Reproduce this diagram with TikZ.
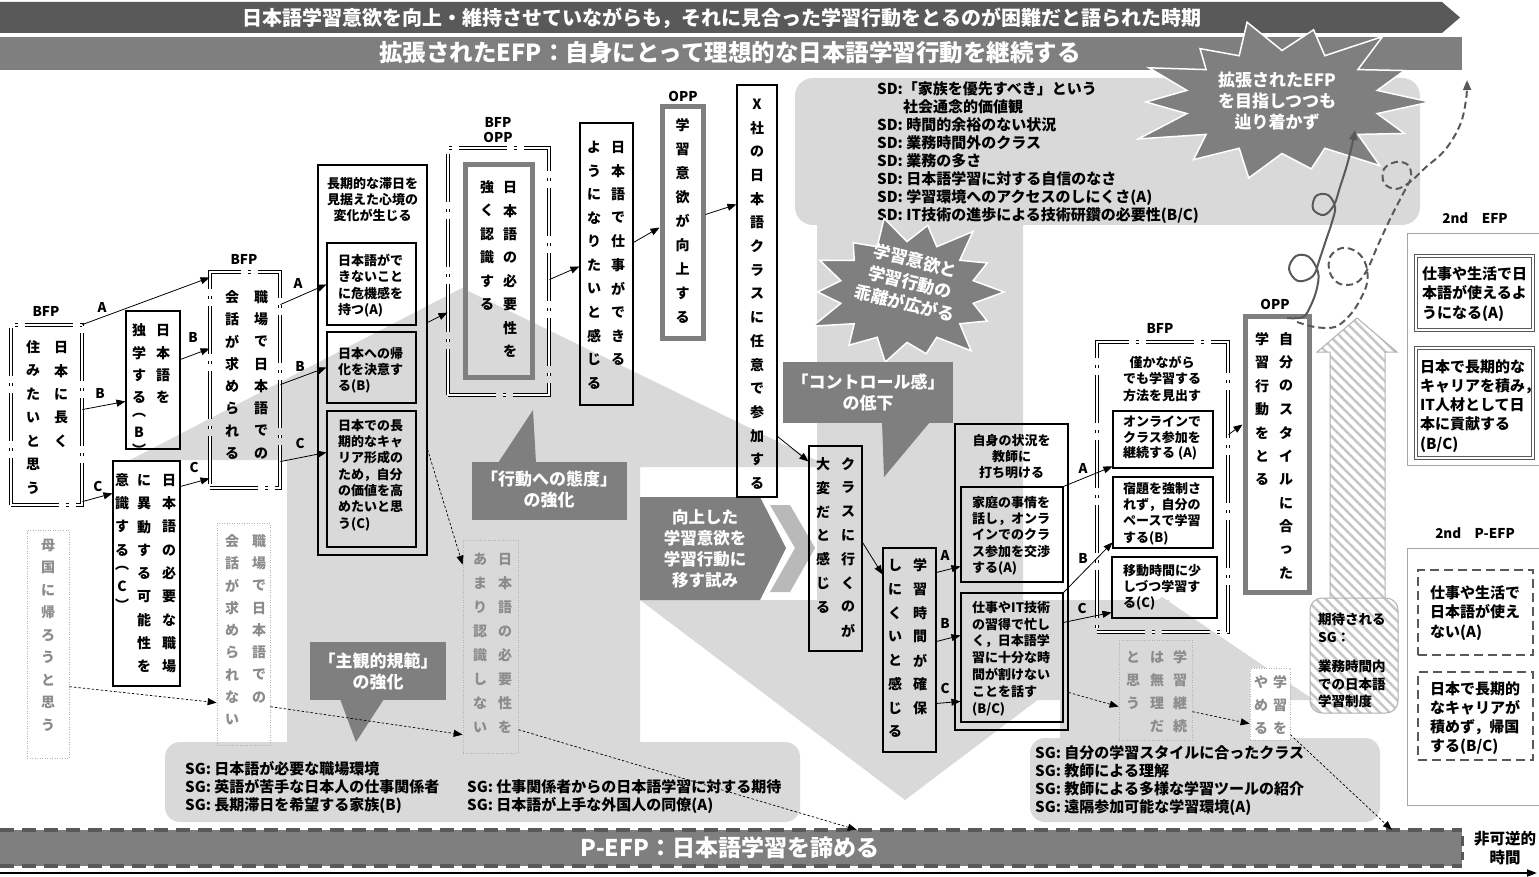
\documentclass[tikz,border=0pt]{standalone}
\usepackage{fontspec}
\setmainfont{Noto Sans CJK JP}
\usetikzlibrary{arrows.meta,fit,patterns.meta,calc}
\definecolor{lg}{HTML}{D9D9D9}
\definecolor{mg}{HTML}{7F7F7F}
\definecolor{dg}{HTML}{595959}
\definecolor{gt}{HTML}{8C8C8C}
\ExplSyntaxOn
\dim_new:N \l_vc_sp_dim
\cs_new_protected:Npn \vc_cell:nn #1#2
  { \vbox_to_ht:nn {#1} { \vss \hbox_to_wd:nn {1.2em} { \hss #2 \hss } \vss } }
\NewDocumentCommand \vcol { O{23.5pt} m }
  {
    \dim_set:Nn \l_vc_sp_dim {#1}
    \vbox:n
      {
        \offinterlineskip
        \tl_map_inline:nn {#2}
          {
            \str_case:nnF {##1}
              {
                {︵} { \vc_cell:nn {0.55\l_vc_sp_dim} {##1} }
                {︶} { \vc_cell:nn {0.55\l_vc_sp_dim} {##1} }
              }
              { \vc_cell:nn {\l_vc_sp_dim} {##1} }
          }
      }
  }
\ExplSyntaxOff
\tikzset{
  ar/.style={-{Triangle[length=9pt,width=7pt]},line width=0.8pt},
  dar/.style={-{Triangle[length=9pt,width=7pt]},line width=0.7pt,dash pattern=on 2.5pt off 2pt},
  box/.style={draw,line width=1.1pt,inner sep=0pt},
  bfpbox/.style={draw,double,double distance=1.8pt,line width=0.9pt,inner sep=0pt,dash pattern=on 48pt off 7pt on 3pt off 7pt},
  oppbox/.style={draw=mg,line width=5pt,inner sep=0pt},
  ghost/.style={draw=gray!60,line width=0.7pt,dash pattern=on 1pt off 1.5pt,inner sep=0pt},
  vt/.style={font=\fontsize{14}{14}\selectfont\bfseries,inner sep=0pt,anchor=north},
  gvt/.style={vt,text=gt},
  tx/.style={font=\fontsize{13}{16.3}\selectfont\bfseries,inner sep=0pt,align=left,anchor=north west},
  ctx/.style={font=\fontsize{13}{16.3}\selectfont\bfseries,inner sep=0pt,align=center,anchor=north},
  lab/.style={font=\fontsize{13.5}{14}\selectfont\bfseries,inner sep=0pt},
  wt/.style={text=white,font=\fontsize{17}{21}\selectfont\bfseries,align=center,inner sep=0pt},
  sgt/.style={font=\fontsize{15}{18}\selectfont\bfseries,inner sep=0pt,align=left,anchor=north west},
}
\begin{document}
\begin{tikzpicture}[x=1pt,y=-1pt]
\useasboundingbox (0,0) rectangle (1539,877);
\fill[white] (0,0) rectangle (1539,877);
% large background arrows
\fill[lg] (130,460) -- (462,288) -- (830,467) -- (640,467) -- (640,745) -- (287,745) -- (287,460) -- cycle;
\fill[lg] (817,200) -- (1023,200) -- (1023,600) -- (1170,600) -- (905,800) -- (640,600) -- (817,600) -- cycle;
\fill[lg] (1010,700) -- (1162,597) -- (1314,700) -- (1270,700) -- (1270,740) -- (1060,740) -- (1060,700) -- cycle;
% SD / SG boxes
\fill[lg,rounded corners=18pt] (795,78) rectangle (1420,225);
\fill[lg,rounded corners=15pt] (165,742) rectangle (800,822);
\fill[lg,rounded corners=15pt] (1030,738) rectangle (1380,822);
\node[sgt] (sdt) at (877,81.5) {SD:「家族を優先すべき」という\\\hspace*{26pt}社会通念的価値観\\SD: 時間的余裕のない状況\\SD: 業務時間外のクラス\\SD: 業務の多さ\\SD: 日本語学習に対する自信のなさ\\SD: 学習環境へのアクセスのしにくさ(A)\\SD: IT技術の進歩による技術研鑽の必要性(B/C)};
\node[sgt] (sg1) at (185,761) {SG: 日本語が必要な職場環境\\SG: 英語が苦手な日本人の仕事関係者\\SG: 長期滞日を希望する家族(B)};
\node[sgt] (sg2) at (467,779) {SG: 仕事関係者からの日本語学習に対する期待\\SG: 日本語が上手な外国人の同僚(A)};
\node[sgt] (sg3) at (1035,745) {SG: 自分の学習スタイルに合ったクラス\\SG: 教師による理解\\SG: 教師による多様な学習ツールの紹介\\SG: 遠隔参加可能な学習環境(A)};
% banners
\fill[dg] (0,2) -- (1442,2) -- (1460,17.5) -- (1442,33) -- (0,33) -- cycle;
\node[text=white,font=\fontsize{20}{20}\selectfont\bfseries,inner sep=0pt] (ban1) at (722,18) {日本語学習意欲を向上・維持させていながらも，それに見合った学習行動をとるのが困難だと語られた時期};
\fill[mg] (0,37) rectangle (1462,70);
\node[text=white,font=\fontsize{23.5}{24}\selectfont\bfseries,inner sep=0pt] (ban2) at (730,53) {拡張されたEFP：自身にとって理想的な日本語学習行動を継続する};
\node[fit={(0,830) (1462,866)},inner sep=0pt,fill=mg] (pefp) {};
\draw[dg,line width=3.5pt,dash pattern=on 14pt off 8pt] (pefp.north west) -- (pefp.north east) (pefp.south west) -- (pefp.south east);
\draw[dg,line width=3pt,dash pattern=on 10pt off 6pt] ([yshift=-6pt]pefp.north east) -- ([yshift=6pt]pefp.south east);
\node[text=white,font=\fontsize{23}{24}\selectfont\bfseries,inner sep=0pt] (pefpt) at (730,848) {P-EFP：日本語学習を諦める};
\coordinate (tl0) at (0,873);
\coordinate (tl1) at (1537,873);
\draw[line width=2pt,-{Triangle[length=10pt,width=7pt]}] (tl0) -- (tl1);
\node[font=\fontsize{15.5}{19.5}\selectfont\bfseries,align=center,inner sep=0pt] (irr) at (1505,848) {非可逆的\\時間};
% stars
\path[fill=mg,draw=white,line width=1.5pt] ($(907,292)+(0:97 and 72)$) \foreach \a/\f in {13/0.7,26/0.92,39/0.7,51/1.05,64/0.7,77/0.88,90/0.7,103/1.0,116/0.7,129/0.95,141/0.7,154/1.08,167/0.7,180/0.92,193/0.7,206/1.0,219/0.7,231/0.88,244/0.7,257/1.05,270/0.7,283/0.95,296/0.7,309/1.08,321/0.7,334/0.92,347/0.7} { -- ($(907,292)+(\a:{97*\f} and {72*\f})$) } -- cycle;
\node[wt,rotate=-14,font=\fontsize{17}{22}\selectfont\bfseries] (st1) at (910,282) {学習意欲と\\学習行動の\\乖離が広がる};
\path[fill=mg,draw=white,line width=1.5pt] ($(1282,102)+(0:148 and 78)$) \foreach \a/\f in {13/0.66,26/0.92,39/0.66,51/1.05,64/0.66,77/0.88,90/0.66,103/1.0,116/0.66,129/0.95,141/0.66,154/1.08,167/0.66,180/0.92,193/0.66,206/1.0,219/0.66,231/0.88,244/0.66,257/1.05,270/0.66,283/0.95,296/0.66,309/1.08,321/0.66,334/0.92,347/0.66} { -- ($(1282,102)+(\a:{148*\f} and {78*\f})$) } -- cycle;
\node[wt] (st2) at (1277,101) {拡張されたEFP\\を目指しつつも\\辿り着かず};
% callouts
\fill[mg] (472,462) rectangle (627,520);
\fill[mg] (498,463) -- (533,410) -- (536,463) -- cycle;
\node[wt] (cl1) at (549,490) {「行動への態度」\\の強化};
\fill[mg] (310,642) rectangle (446,700);
\fill[mg] (340,699) -- (356,742) -- (384,699) -- cycle;
\node[wt] (cl2) at (378,671) {「主観的規範」\\の強化};
\fill[mg] (783,362) rectangle (953,423);
\fill[mg] (882,422) -- (884,477) -- (930,422) -- cycle;
\node[wt] (cl3) at (868,392) {「コントロール感」\\の低下};
\fill[mg] (640,497) -- (760,497) -- (786,548) -- (760,600) -- (640,600) -- cycle;
\fill[gray!55] (770,505) -- (790,505) -- (815,548) -- (790,592) -- (770,592) -- (795,548) -- cycle;
\node[wt,font=\fontsize{16.5}{21}\selectfont\bfseries] (cl4) at (705,549) {向上した\\学習意欲を\\学習行動に\\移す試み};
% hatched arrow and expected SG
\path[pattern={Lines[angle=-45,distance=7pt,line width=2.5pt]},pattern color=gray!45,draw=gray!60,line width=1pt] (1330,598) -- (1330,352) -- (1317,352) -- (1357,318) -- (1397,352) -- (1385,352) -- (1385,598);
\node[fit={(1310,598) (1398,713)},inner sep=0pt,rounded corners=12pt,draw=gray!60,line width=1pt,fill=white,pattern={Lines[angle=-45,distance=7pt,line width=2.5pt]},pattern color=gray!45] (esg) {};
\node[tx,font=\fontsize{13.5}{17.5}\selectfont\bfseries] (esgt) at (1318,613) {期待される\\SG：\\[12pt]業務時間内\\での日本語\\学習制度};
% ---------- left column
\node[lab] (lbfp1) at (46,311) {BFP};
\node[fit={(11,325) (82,505)},bfpbox] (b1) {};
\node[vt] (b1r) at (61,335.25) {\vcol[23.5pt]{日本に長く}};
\node[vt] (b1l) at (33,335.25) {\vcol[23.5pt]{住みたいと思う}};
\node[fit={(126,311) (180,449)},box] (b2) {};
\node[vt] (b2r) at (163,318.75) {\vcol[22.5pt]{日本語を}};
\node[vt] (b2l) at (139,318.75) {\vcol[22.5pt]{独学する︵B︶}};
\node[fit={(113,461) (180,686)},box] (b3) {};
\node[vt] (b3r) at (169,468.35) {\vcol[23.3pt]{日本語の必要な職場}};
\node[vt] (b3m) at (144,468.35) {\vcol[23.3pt]{に異動する可能性を}};
\node[vt] (b3l) at (122,468.35) {\vcol[23.3pt]{意識する︵C︶}};
\node[fit={(27,530) (69,758)},ghost] (g1) {};
\node[gvt] (g1c) at (48,533.75) {\vcol[22.5pt]{母国に帰ろうと思う}};
\node[lab] (lbfp2) at (244,259) {BFP};
\node[fit={(210,272) (280,488)},bfpbox] (b4) {};
\node[vt] (b4r) at (261,285.85) {\vcol[22.3pt]{職場で日本語での}};
\node[vt] (b4l) at (232,285.85) {\vcol[22.3pt]{会話が求められる}};
\node[fit={(217,523) (270,745)},ghost] (g2) {};
\node[gvt] (g2r) at (259,529.85) {\vcol[22.3pt]{職場で日本語での}};
\node[gvt] (g2l) at (232,529.85) {\vcol[22.3pt]{会話が求められない}};
% container 5
\node[fit={(318,165) (427,555)},box] (c5) {};
\node[ctx] (c5h) at (372.5,177) {長期的な滞日を\\見据えた心境の\\変化が生じる};
\node[fit={(327,243) (416,325)},box] (iA) {};
\node[tx] (iAt) at (338,254) {日本語がで\\きないこと\\に危機感を\\持つ(A)};
\node[fit={(327,332) (416,403)},box] (iB) {};
\node[tx] (iBt) at (338,347) {日本への帰\\化を決意す\\る(B)};
\node[fit={(327,411) (416,547)},box] (iC) {};
\node[tx] (iCt) at (338,419) {日本での長\\期的なキャ\\リア形成の\\ため，自分\\の価値を高\\めたいと思\\う(C)};
\node[fit={(463,540) (518,753)},ghost] (g5) {};
\node[gvt] (g5r) at (505,547) {\vcol[24pt]{日本語の必要性を}};
\node[gvt] (g5l) at (480,547) {\vcol[24pt]{あまり認識しない}};
% b6
\node[lab] (lbfp3) at (498,122) {BFP};
\node[lab] (lopp1) at (498,137) {OPP};
\node[fit={(448,148) (549,395)},bfpbox] (b6) {};
\node[fit={(465,165) (532,377)},oppbox] (b6i) {};
\node[vt] (b6r) at (510,175.25) {\vcol[23.5pt]{日本語の必要性を}};
\node[vt] (b6l) at (487,175.25) {\vcol[23.5pt]{強く認識する}};
\node[fit={(580,123) (633,405)},box] (b7) {};
\node[vt] (b7r) at (618,135.2) {\vcol[23.6pt]{日本語で仕事ができる}};
\node[vt] (b7l) at (594,135.2) {\vcol[23.6pt]{ようになりたいと感じる}};
\node[lab] (lopp2) at (683,96) {OPP};
\node[fit={(662,107) (703,338)},oppbox] (b8) {};
\node[vt] (b8c) at (682.5,113) {\vcol[24pt]{学習意欲が向上する}};
\node[fit={(737,85) (777,497)},box] (b9) {};
\node[vt] (b9c) at (757,92.15) {\vcol[23.7pt]{X社の日本語クラスに任意で参加する}};
\node[fit={(809,446) (862,651)},box] (b10) {};
\node[vt] (b10r) at (848,452.1) {\vcol[23.8pt]{クラスに行くのが}};
\node[vt] (b10l) at (823,452.1) {\vcol[23.8pt]{大変だと感じる}};
\node[fit={(883,548) (936,752)},box] (b11) {};
\node[vt] (b11r) at (920,553.1) {\vcol[23.8pt]{学習時間が確保}};
\node[vt] (b11l) at (895,553.1) {\vcol[23.8pt]{しにくいと感じる}};
% container 12
\node[fit={(955,424) (1068,730)},box] (c12) {};
\node[ctx] (c12h) at (1011.5,434) {自身の状況を\\教師に\\打ち明ける};
\node[fit={(961,487) (1063,582)},box] (c12a) {};
\node[tx] (c12at) at (972,496) {家庭の事情を\\話し，オンラ\\インでのクラ\\ス参加を交渉\\する(A)};
\node[fit={(961,593) (1063,722)},box] (c12b) {};
\node[tx,font=\fontsize{13}{16.8}\selectfont\bfseries] (c12bt) at (972,601) {仕事やIT技術\\の習得で忙し\\く，日本語学\\習に十分な時\\間が割けない\\ことを話す\\(B/C)};
% b13
\node[lab] (lbfp4) at (1160,328) {BFP};
\node[fit={(1097,342) (1228,632)},bfpbox] (b13) {};
\node[ctx] (b13h) at (1162,356) {僅かながら\\でも学習する\\方法を見出す};
\node[fit={(1113,411) (1213,468)},box] (b13i1) {};
\node[tx,font=\fontsize{13}{15.5}\selectfont\bfseries] (b13t1) at (1123,416) {オンラインで\\クラス参加を\\継続する (A)};
\node[fit={(1113,477) (1213,548)},box] (b13i2) {};
\node[tx] (b13t2) at (1123,482) {宿題を強制さ\\れず，自分の\\ペースで学習\\する(B)};
\node[fit={(1112,557) (1217,618)},box] (b13i3) {};
\node[tx] (b13t3) at (1123,564) {移動時間に少\\しづつ学習す\\る(C)};
% b14
\node[lab] (lopp3) at (1275,304) {OPP};
\node[fit={(1245,316) (1309,592)},oppbox] (b14) {};
\node[vt] (b14r) at (1286,327.3) {\vcol[23.4pt]{自分のスタイルに合った}};
\node[vt] (b14l) at (1262,327.3) {\vcol[23.4pt]{学習行動をとる}};
\node[fit={(1119,640) (1192,740)},ghost] (g3) {};
\node[gvt] (g3r) at (1180,645.5) {\vcol[23pt]{学習継続}};
\node[gvt] (g3m) at (1157,645.5) {\vcol[23pt]{は無理だ}};
\node[gvt] (g3l) at (1133,645.5) {\vcol[23pt]{と思う}};
\node[fit={(1250,668) (1290,740)},ghost,fill=white] (g4) {};
\node[gvt] (g4r) at (1280,670.5) {\vcol[23pt]{学習を}};
\node[gvt] (g4l) at (1261,670.5) {\vcol[23pt]{やめる}};
% 2nd EFP / P-EFP
\node[lab] (l2e) at (1475,218) {2nd\quad EFP};
\node[fit={(1407,234) (1545,465)},draw=gray!70,line width=1pt,inner sep=0pt] (e2) {};
\node[fit={(1416,256) (1533,330)},draw=dg,double,double distance=1.5pt,line width=1pt,inner sep=0pt] (e2a) {};
\node[tx,font=\fontsize{15}{19.5}\selectfont\bfseries] (e2at) at (1422,266) {仕事や生活で日\\本語が使えるよ\\うになる(A)};
\node[fit={(1416,348) (1533,458)},draw=dg,double,double distance=1.5pt,line width=1pt,inner sep=0pt] (e2b) {};
\node[tx,font=\fontsize{15}{19.3}\selectfont\bfseries] (e2bt) at (1420,359) {日本で長期的な\\キャリアを積み，\\IT人材として日\\本に貢献する\\(B/C)};
\node[lab] (l2p) at (1475,533) {2nd\quad P-EFP};
\node[fit={(1407,548) (1545,805)},draw=gray!70,line width=1pt,inner sep=0pt] (p2) {};
\node[fit={(1418,570) (1533,655)},draw=dg,line width=2.5pt,dash pattern=on 9pt off 5pt,inner sep=0pt] (p2a) {};
\node[tx,font=\fontsize{15}{19.5}\selectfont\bfseries] (p2at) at (1430,585) {仕事や生活で\\日本語が使え\\ない(A)};
\node[fit={(1418,672) (1533,760)},draw=dg,line width=2.5pt,dash pattern=on 9pt off 5pt,inner sep=0pt] (p2b) {};
\node[tx,font=\fontsize{15}{19}\selectfont\bfseries] (p2bt) at (1430,681) {日本で長期的\\なキャリアが\\積めず，帰国\\する(B/C)};
% ---------- connectors
\draw[ar] (b1.north east) -- ([yshift=-6pt]b4.north west);
\node[lab] (la1) at (102,307) {A};
\draw[ar] ([yshift=-85pt]b1.north east) -- ([yshift=-91pt]b2.north west);
\node[lab] (lb1) at (100,393) {B};
\draw[ar] ([yshift=-177pt]b1.north east) -- ([yshift=-33pt]b3.north west);
\node[lab] (lc1) at (98,486) {C};
\draw[ar] ([yshift=-49pt]b2.north east) -- ([yshift=-77pt]b4.north west);
\node[lab] (lb2) at (193,337) {B};
\draw[ar] ([yshift=-26pt]b3.north east) -- ([yshift=-207pt]b4.north west);
\node[lab] (lc2) at (194,467) {C};
\draw[ar] ([yshift=-33pt]b4.north east) -- ([yshift=-42pt]iA.north west);
\node[lab] (la2) at (298,283) {A};
\draw[ar] ([yshift=-113pt]b4.north east) -- ([yshift=-36pt]iB.north west);
\node[lab] (lb3) at (300,366) {B};
\draw[ar] ([yshift=-190pt]b4.north east) -- ([yshift=-42pt]iC.north west);
\node[lab] (lc3) at (300,443) {C};
\draw[ar] ([yshift=-158pt]c5.north east) -- ([yshift=-165pt]b6.north west);
\draw[ar] ([yshift=-132pt]b6.north east) -- ([yshift=-144pt]b7.north west);
\draw[ar] ([yshift=-120pt]b7.north east) -- ([yshift=-123pt]b8.north west);
\draw[ar] ([yshift=-110pt]b8.north east) -- ([yshift=-120pt]b9.north west);
\draw[ar] ([yshift=-352pt]b9.north east) -- ([yshift=-16pt]b10.north west);
\draw[ar] ([yshift=-97pt]b10.north east) -- ([yshift=-27pt]b11.north west);
\draw[ar] ([yshift=-25pt]b11.north east) -- ([yshift=-80pt]c12a.north west);
\node[lab] (la3) at (945,555) {A};
\draw[ar] ([yshift=-94pt]b11.north east) -- ([yshift=-43pt]c12b.north west);
\node[lab] (lb4) at (945,623) {B};
\draw[ar] ([yshift=-156pt]b11.north east) -- ([yshift=-109pt]c12b.north west);
\node[lab] (lc4) at (945,688) {C};
\draw[ar] (c12a.north east) -- ([yshift=-56pt]b13i1.north west);
\node[lab] (la4) at (1083,468) {A};
\draw[ar] (c12b.north east) -- ([yshift=-66pt]b13i2.north west);
\node[lab] (lb5) at (1083,558) {B};
\draw[ar] ([yshift=-30pt]c12b.north east) -- ([yshift=-56pt]b13i3.north west);
\node[lab] (lc5) at (1082,608) {C};
\draw[ar] ([yshift=-93pt]b13.north east) -- ([yshift=-111pt]b14.north west);
% dashed connectors
\draw[dar] ([yshift=-285pt]c5.north east) -- ([yshift=-25pt]g5.north west);
\draw[dar] ([yshift=-157pt]g1.north east) -- ([yshift=-180pt]g2.north west);
\draw[dar] ([yshift=-184pt]g2.north east) -- ([yshift=-195pt]g5.north west);
\draw[dar] ([yshift=-190pt]g5.north east) -- ([xshift=857pt]pefp.north west);
\draw[dar] ([yshift=-269pt]c12.north east) -- ([yshift=-67pt]g3.north west);
\draw[dar] ([yshift=-72pt]g3.north east) -- ([yshift=-56pt]g4.north west);
\draw[dar] ([yshift=-67pt]g4.north east) -- ([xshift=1392pt]pefp.north west);
% curvy paths
\draw[dg,line width=2pt,-{Triangle[length=10pt,width=8pt]}] plot[smooth,tension=0.6] coordinates {(1287,318) (1303,317) (1311,305) (1317,288) (1318,272) (1309,257) (1296,256) (1289,269) (1298,281) (1313,276) (1320,258) (1326,240) (1332,222) (1335,207) (1328,195) (1316,196) (1313,209) (1324,215) (1334,205) (1340,187) (1347,165) (1352,145) (1355,130)};
\draw[dg,line width=2pt,dash pattern=on 7pt off 4pt,-{Triangle[length=10pt,width=8pt]}] plot[smooth,tension=0.6] coordinates {(1297,322) (1315,327) (1335,327) (1350,315) (1360,300) (1367,283) (1366,265) (1357,252) (1342,248) (1330,257) (1330,273) (1340,284) (1356,283) (1367,270) (1378,245) (1392,215) (1405,190) (1411,177) (1408,165) (1396,162) (1384,169) (1384,183) (1396,189) (1410,182) (1425,168) (1445,150) (1460,125) (1466,100) (1467,80)};
\end{tikzpicture}
\end{document}
